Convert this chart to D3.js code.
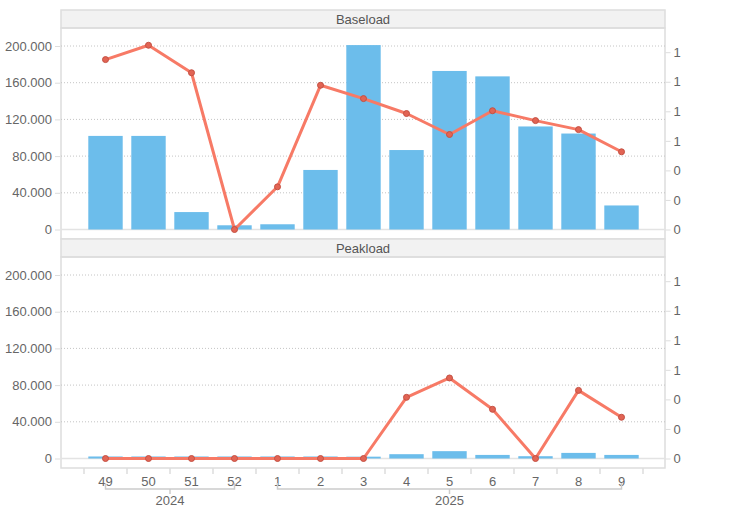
<!DOCTYPE html>
<html>
<head>
<meta charset="utf-8">
<script src="https://cdn.jsdelivr.net/npm/d3@7"></script>
<style>
  body { margin: 0; background: #fff; }
  text { font-family: "Liberation Sans", Arial, sans-serif; }
</style>
</head>
<body>
<div id="main"></div>
<script>
var weeks = ['49', '50', '51', '52', '1', '2', '3', '4', '5', '6', '7', '8', '9']
var years = [
  { year: '2024', from: '49', to: '52' },
  { year: '2025', from: '1', to: '9' }
]
var panels = ['Baseload', 'Peakload']
var base_volume = [102000, 102000, 19000, 4600, 5700, 64900, 201000, 86600, 172800, 166900, 112300, 104600, 26200]
var base_ratio = [1.15, 1.247, 1.061, 0, 0.289, 0.976, 0.886, 0.785, 0.643, 0.804, 0.737, 0.676, 0.526]
var peak_volume = [2200, 2200, 2200, 2200, 2200, 2200, 2000, 4700, 8000, 3900, 2500, 6100, 3900]
var peak_ratio = [0, 0, 0, 0, 0, 0, 0, 0.414, 0.545, 0.333, 0, 0.461, 0.279]
var left_ticks = [0, 40000, 80000, 120000, 160000, 200000]
var right_ticks = [0, 0.2, 0.4, 0.6, 0.8, 1, 1.2]

var volumes = [base_volume, peak_volume]
var ratios = [base_ratio, peak_ratio]

var w = 729
var h = 508
var left = 61
var right = 665
var top0 = 10
var strip_h = 18
var plot_h = 211
var panel_h = strip_h + plot_h

var bar_color = 'rgb(108,189,235)'
var line_color = 'rgb(247,122,102)'
var grid_color = '#ddd'
var text_color = '#666'

var de = d3.formatLocale({ decimal: ',', thousands: '.', grouping: [3], currency: ['', ''] })
var fmt_left = de.format(',')
var fmt_right = d3.format('.0f')

var svg = d3.select('div#main').append('svg')
  .attr('width', w)
  .attr('height', h)

var x = d3.scaleBand()
  .domain(weeks)
  .range([84, 643])
  .paddingInner(0.2)
  .paddingOuter(0.1)

var step = x.step()
var x0 = x.range()[0]

panels.forEach(function (name, i) {
  var ptop = top0 + i * panel_h
  var plot_top = ptop + strip_h
  var plot_bottom = plot_top + plot_h
  var zero = plot_bottom - 9.5

  var y = d3.scaleLinear().domain([0, 200000]).range([zero, zero - 183.5])
  var yr = d3.scaleLinear().domain([0, 1.2]).range([zero, zero - 177.3])

  var g = svg.append('g')

  // strip
  g.append('rect')
    .attr('x', left).attr('y', ptop)
    .attr('width', right - left).attr('height', strip_h)
    .attr('fill', '#f2f2f2')
    .attr('stroke', grid_color)
    .attr('stroke-width', 1.5)
  g.append('text')
    .text(name)
    .attr('x', (left + right) / 2)
    .attr('y', ptop + 13.5)
    .attr('text-anchor', 'middle')
    .style('font-size', '13px')
    .attr('fill', '#555')

  // frame
  g.append('rect')
    .attr('x', left).attr('y', plot_top)
    .attr('width', right - left).attr('height', plot_h)
    .attr('fill', 'none')
    .attr('stroke', grid_color)
    .attr('stroke-width', 1.5)

  // grid
  left_ticks.forEach(function (t) {
    g.append('line')
      .attr('x1', left).attr('x2', right)
      .attr('y1', y(t)).attr('y2', y(t))
      .attr('stroke', t === 0 ? '#e3e3e3' : '#c4c4c4')
      .attr('stroke-width', t === 0 ? 1.5 : 1)
      .attr('stroke-dasharray', t === 0 ? null : '1,2')
  })

  // left axis
  var ay = d3.axisLeft(y).tickValues(left_ticks).tickFormat(fmt_left).tickSize(5).tickPadding(3)
  var gl = g.append('g').attr('transform', 'translate(' + (left - 1) + ',0)').call(ay)
  gl.select('.domain').remove()
  gl.selectAll('line').attr('stroke', grid_color)
  gl.selectAll('text').attr('fill', text_color).style('font-size', '13px')

  // right axis
  var ar = d3.axisRight(yr).tickValues(right_ticks).tickFormat(fmt_right).tickSize(5).tickPadding(3)
  var gr = g.append('g').attr('transform', 'translate(' + (right + 0.5) + ',0)').call(ar)
  gr.select('.domain').remove()
  gr.selectAll('line').attr('stroke', grid_color)
  gr.selectAll('text').attr('fill', text_color).style('font-size', '13px')

  // bars
  g.selectAll('rect.bar')
    .data(volumes[i])
    .enter().append('rect')
    .attr('class', 'bar')
    .attr('x', function (d, k) { return x(weeks[k]) })
    .attr('y', function (d) { return y(d) })
    .attr('width', x.bandwidth())
    .attr('height', function (d) { return zero - y(d) })
    .attr('fill', bar_color)

  // line
  var line = d3.line()
    .x(function (d, k) { return x(weeks[k]) + x.bandwidth() / 2 })
    .y(function (d) { return yr(d) })
  g.append('path')
    .datum(ratios[i])
    .attr('d', line)
    .attr('fill', 'none')
    .attr('stroke', line_color)
    .attr('stroke-width', 3)
    .attr('stroke-linejoin', 'round')

  g.selectAll('circle')
    .data(ratios[i])
    .enter().append('circle')
    .attr('cx', function (d, k) { return x(weeks[k]) + x.bandwidth() / 2 })
    .attr('cy', function (d) { return yr(d) })
    .attr('r', 3)
    .attr('fill', 'rgb(226,100,84)')
    .attr('stroke', 'rgb(196,80,66)')
    .attr('stroke-width', 1)
})

// x axis
var axis_top = top0 + panels.length * panel_h
d3.range(0, weeks.length + 1).forEach(function (k) {
  svg.append('line')
    .attr('x1', x0 + k * step).attr('x2', x0 + k * step)
    .attr('y1', axis_top).attr('y2', axis_top + 6)
    .attr('stroke', grid_color)
    .attr('stroke-width', 1.5)
})
weeks.forEach(function (wk) {
  svg.append('text')
    .text(wk)
    .attr('x', x(wk) + x.bandwidth() / 2)
    .attr('y', axis_top + 18)
    .attr('text-anchor', 'middle')
    .style('font-size', '13px')
    .attr('fill', text_color)
})

years.forEach(function (yr) {
  var a = x(yr.from) + x.bandwidth() / 2
  var b = x(yr.to) + x.bandwidth() / 2
  var m = (a + b) / 2
  var ly = axis_top + 21
  svg.append('path')
    .attr('d', ['M', a, ly - 6, 'L', a, ly, 'L', b, ly, 'L', b, ly - 6].join(' '))
    .attr('fill', 'none')
    .attr('stroke', '#ccc')
    .attr('stroke-width', 1.5)
  svg.append('line')
    .attr('x1', m).attr('x2', m)
    .attr('y1', ly).attr('y2', ly + 5)
    .attr('stroke', '#ccc')
    .attr('stroke-width', 1.5)
  svg.append('text')
    .text(yr.year)
    .attr('x', m)
    .attr('y', ly + 15.5)
    .attr('text-anchor', 'middle')
    .style('font-size', '13px')
    .attr('fill', text_color)
})
</script>
</body>
</html>
